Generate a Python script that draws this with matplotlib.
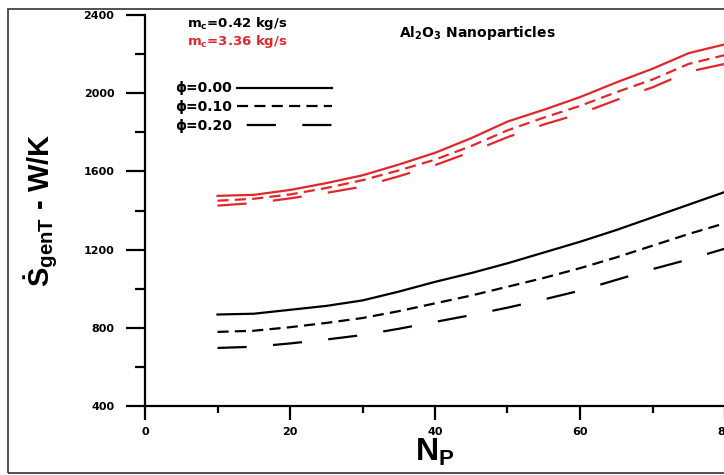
import matplotlib
matplotlib.use("Agg")
import matplotlib.pyplot as plt
from matplotlib.lines import Line2D
from matplotlib.patches import Rectangle

plt.rcParams['font.family'] = ['DejaVu Sans']
plt.rcParams['lines.scale_dashes'] = False

# ---- data ----
Np = [10, 15, 20, 25, 30, 35, 40, 45, 50, 55, 60, 65, 70, 75, 80]

red_phi000 = [1475, 1480, 1505, 1540, 1580, 1635, 1695, 1770, 1855, 1915, 1980, 2055, 2125, 2205, 2250]
red_phi010 = [1450, 1460, 1482, 1515, 1555, 1605, 1660, 1730, 1810, 1875, 1935, 2005, 2070, 2150, 2195]
red_phi020 = [1425, 1438, 1462, 1490, 1522, 1575, 1632, 1700, 1775, 1840, 1895, 1965, 2030, 2110, 2150]

blk_phi000 = [868, 872, 892, 912, 940, 985, 1035, 1080, 1130, 1185, 1240, 1300, 1365, 1430, 1495]
blk_phi010 = [779, 785, 803, 825, 850, 885, 925, 965, 1010, 1055, 1105, 1160, 1220, 1280, 1335]
blk_phi020 = [697, 703, 720, 740, 763, 795, 830, 865, 903, 945, 990, 1045, 1100, 1150, 1205]

phi_labels = ['ϕ=0.00', 'ϕ=0.10', 'ϕ=0.20']
x_ticks = [0, 20, 40, 60, 80]
y_ticks = [400, 800, 1200, 1600, 2000, 2400]

RED = '#e3262b'
styles = ['-', (0, (8, 4.5)), (0, (21, 19))]
leg_styles = ['-', (0, (8, 4.5)), (33, (21, 19))]
LW = 1.6
LABEL_FONT = ['Liberation Sans', 'DejaVu Sans']

fig = plt.figure(figsize=(7.24, 4.75), dpi=100)
fig.patches.append(Rectangle((8/724, 2/475), 1.2, 464/475, transform=fig.transFigure,
                             fill=False, edgecolor='#333333', linewidth=1.2))
ax = fig.add_axes([145/724, 69/475, 580/724, 391/475])

for ys, ls in zip([red_phi000, red_phi010, red_phi020], styles):
    ax.plot(Np, ys, color=RED, linestyle=ls, linewidth=LW)
for ys, ls in zip([blk_phi000, blk_phi010, blk_phi020], styles):
    ax.plot(Np, ys, color='black', linestyle=ls, linewidth=LW)

ax.set_xlim(0, 80)
ax.set_ylim(400, 2400)
ax.set_xticks(x_ticks)
ax.set_xticks([10, 30, 50, 70], minor=True)
ax.set_yticks(y_ticks)
ax.set_yticks([600, 1000, 1400, 1800, 2200], minor=True)
for s in ['top', 'right']:
    ax.spines[s].set_visible(False)
for s in ['left', 'bottom']:
    ax.spines[s].set_linewidth(1.6)
ax.tick_params(axis='y', which='major', direction='out', length=14, width=1.6, pad=8)
ax.tick_params(axis='y', which='minor', direction='out', length=7, width=1.6)
ax.tick_params(axis='x', which='major', direction='out', length=10, width=1.6, pad=5)
ax.tick_params(axis='x', which='minor', direction='out', length=5, width=1.6)
for lab in ax.get_xticklabels() + ax.get_yticklabels():
    lab.set_fontweight('bold')
    lab.set_fontsize(8)

ax.set_xlabel(r'N$_{\mathregular{P}}$', fontsize=23, fontweight='bold',
              family=LABEL_FONT, labelpad=0)
ax.set_ylabel(r'Ṡ$_{\mathregular{genT}}$ - W/K', fontsize=21, fontweight='bold',
              family=LABEL_FONT, labelpad=17)

ax.text(0.072, 0.978, r'm$_{\mathregular{c}}$=0.42 kg/s', transform=ax.transAxes,
        fontsize=9.5, fontweight='bold', color='black', va='center')
ax.text(0.072, 0.932, r'm$_{\mathregular{c}}$=3.36 kg/s', transform=ax.transAxes,
        fontsize=9.5, fontweight='bold', color=RED, va='center')
ax.text(0.438, 0.955, r'Al$_{\mathregular{2}}$O$_{\mathregular{3}}$ Nanoparticles',
        transform=ax.transAxes, fontsize=10, fontweight='bold', color='black', va='center')

handles = [Line2D([], [], color='black', linestyle=ls, linewidth=LW) for ls in leg_styles]
leg = ax.legend(handles, phi_labels, loc='upper left', bbox_to_anchor=(0.03, 0.862),
                markerfirst=False, frameon=False, handlelength=6.8, handletextpad=0.4,
                labelspacing=0.35, prop={'weight': 'bold', 'size': 10})

fig.savefig('out.png', dpi=100)
